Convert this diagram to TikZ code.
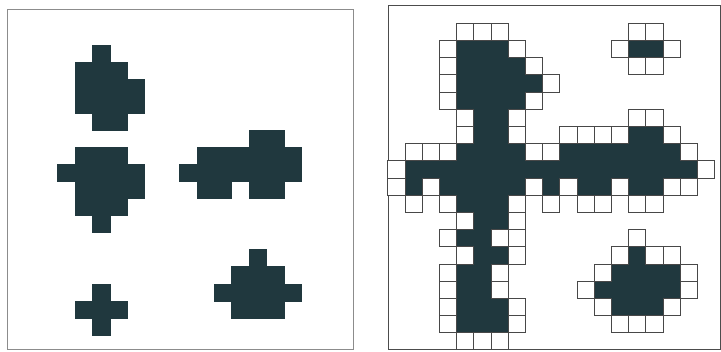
\documentclass[tikz,border=0pt]{standalone}
\definecolor{dk}{RGB}{32,56,62}
\definecolor{ln}{RGB}{72,72,72}
\begin{document}
\begin{tikzpicture}[x=1pt,y=-1pt,
  darkcell/.style={fill=dk,draw=dk,line width=0.3pt},
  opencell/.style={draw=ln,line width=0.9pt,fill=white},
  frameL/.style={draw=black!45,line width=1pt},
  frameR/.style={draw=black!70,line width=1pt}]
\useasboundingbox (0,0) rectangle (721,352);
% ---------- left panel ----------
\draw[frameL] (7.5,9.5) rectangle (353.5,350);
\foreach \r/\cs in {0/{1},1/{0,1,2},2/{0,1,2,3},3/{0,1,2,3},4/{1,2},
  5/{10,11},6/{0,1,2,7,8,9,10,11,12},7/{-1,0,1,2,3,6,7,8,9,10,11,12},
  8/{0,1,2,3,7,8,10,11},9/{0,1,2},10/{1},
  12/{10},13/{9,10,11},14/{1,8,9,10,11,12},15/{0,1,2,9,10,11},16/{1}}{
  \foreach \c in \cs {
    \path[darkcell] ({75+17.4*\c},{45+17.05*\r}) rectangle ++(17.4,17.05);
  }
}
% ---------- right panel ----------
\draw[frameR] (388,6) rectangle (720.5,349.5);
\foreach \r/\cs in {1/{0,1,2,10,11},2/{0,1,2,3},3/{0,1,2,3,4},4/{0,1,2,3},
  5/{1,2},6/{1,2,10,11},7/{0,1,2,3,6,7,8,9,10,11,12},
  8/{-3,-2,-1,0,1,2,3,4,5,6,7,8,9,10,11,12,13},
  9/{-3,-1,0,1,2,3,5,7,8,10,11},10/{0,1,2},11/{1,2},12/{0,1},
  13/{1,2,10},14/{0,1,9,10,11,12},15/{0,1,8,9,10,11,12},16/{0,1,2,9,10,11},17/{0,1,2}}{
  \foreach \c in \cs {
    \path[darkcell] ({456.7+17.19*\c},{23.3+17.19*\r}) rectangle ++(17.19,17.19);
  }
}
\foreach \r/\cs in {0/{0,1,2,10,11},1/{-1,3,9,12},2/{-1,4,10,11},3/{-1,5},4/{-1,4},
  5/{0,3,10,11},6/{0,3,6,7,8,9,12},7/{-3,-2,-1,4,5,13},8/{-4,14},
  9/{-4,-2,4,6,9,12,13},10/{-3,-1,3,5,7,8,10,11},11/{0,3},12/{-1,2,3,10},
  13/{0,3,9,11,12},14/{-1,2,8,13},15/{-1,2,7,13},16/{-1,3,8,12},
  17/{-1,3,9,10,11},18/{0,1,2}}{
  \foreach \c in \cs {
    \path[opencell] ({456.7+17.19*\c},{23.3+17.19*\r}) rectangle ++(17.19,17.19);
  }
}
\end{tikzpicture}
\end{document}
